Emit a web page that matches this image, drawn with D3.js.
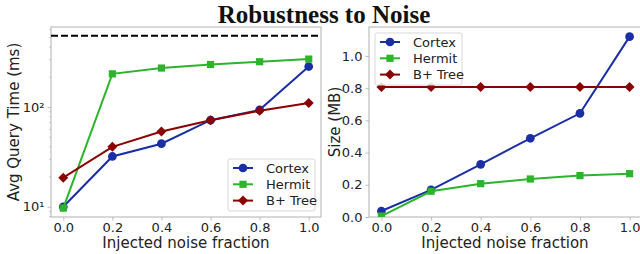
<!DOCTYPE html>
<html><head><meta charset="utf-8">
<script src="https://cdn.jsdelivr.net/npm/d3@7"></script>
<style>body{margin:0;background:#fff}svg{display:block}</style>
</head><body>
<svg id="c" width="640" height="254"></svg>
<script>
const noise = [0.0, 0.2, 0.4, 0.6, 0.8, 1.0];
const series = ["Cortex", "Hermit", "B+ Tree"];
const queryCortex = [10, 32, 43, 74, 94, 256];
const queryHermit = [9.7, 216, 247, 268, 286, 304];
const queryBTree = [19.6, 40, 57, 74, 92, 110];
const queryBaseline = 520;
const sizeCortex = [0.037, 0.168, 0.327, 0.489, 0.644, 1.12];
const sizeHermit = [0.006, 0.16, 0.207, 0.236, 0.257, 0.269];
const sizeBTree = [0.807, 0.807, 0.807, 0.807, 0.807, 0.807];
const xTicks = [0.0, 0.2, 0.4, 0.6, 0.8, 1.0];
const sizeTicks = [0.0, 0.2, 0.4, 0.6, 0.8, 1.0];
const logTicks = [10, 100];

const colors = {"Cortex": "#1a2ea6", "Hermit": "#2cb52c", "B+ Tree": "#8b0000"};
const shapes = {"Cortex": d3.symbolCircle, "Hermit": d3.symbolSquare, "B+ Tree": d3.symbolSquare};
const rot = {"Cortex": 0, "Hermit": 0, "B+ Tree": 45};
const sizes = {"Cortex": 60, "Hermit": 52, "B+ Tree": 50};
const spine = "#b0b0b0";
const font = "DejaVu Sans, sans-serif";

const svg = d3.select("#c");
svg.append("text").attr("x", 324).attr("y", 23).attr("text-anchor", "middle")
  .attr("font-family", "Liberation Serif, DejaVu Serif, serif").attr("font-weight", "bold")
  .attr("font-size", 25).attr("fill", "#111").text("Robustness to Noise");

function panel(opts) {
  const {left, right, top, bottom, y, yTicks, yFmt, data, ylabel, legendPos, minor, dashed} = opts;
  const g = svg.append("g");
  const x = d3.scaleLinear().domain([-0.05, 1.05]).range([left, right]);
  const cid = "clip" + left;
  svg.append("clipPath").attr("id", cid).append("rect").attr("x", left).attr("y", top)
    .attr("width", right - left).attr("height", bottom - top);

  const xa = g.append("g").attr("transform", `translate(0,${bottom})`)
    .call(d3.axisBottom(x).tickValues(xTicks).tickFormat(d3.format(".1f")).tickSize(3.5).tickPadding(2));
  const ya = g.append("g").attr("transform", `translate(${left},0)`)
    .call(d3.axisLeft(y).tickValues(yTicks).tickFormat(yFmt).tickSize(3.5).tickPadding(3));
  [xa, ya].forEach(a => {
    a.select(".domain").remove();
    a.selectAll(".tick line").attr("stroke", spine).attr("stroke-width", 0.8);
    a.selectAll(".tick text").attr("font-family", font).attr("font-size", 13).attr("fill", "#222");
  });
  if (minor) {
    const mt = [];
    const [d0, d1] = y.domain();
    for (let e = 0; e <= 3; e++) for (let m = 2; m < 10; m++) {
      const v = m * Math.pow(10, e);
      if (v >= d0 && v <= d1) mt.push(v);
    }
    g.append("g").selectAll("line").data(mt).join("line")
      .attr("x1", left - 2).attr("x2", left).attr("y1", d => y(d)).attr("y2", d => y(d))
      .attr("stroke", spine).attr("stroke-width", 0.6);
  }
  g.append("rect").attr("x", left).attr("y", top).attr("width", right - left).attr("height", bottom - top)
    .attr("fill", "none").attr("stroke", spine).attr("stroke-width", 1);

  const pg = g.append("g").attr("clip-path", `url(#${cid})`);
  if (dashed !== undefined) {
    pg.append("line").attr("x1", left).attr("x2", right).attr("y1", y(dashed)).attr("y2", y(dashed))
      .attr("stroke", "#000").attr("stroke-width", 2).attr("stroke-dasharray", "7,3");
  }
  const line = d3.line().x((d, i) => x(noise[i])).y(d => y(d));
  series.forEach((s, k) => {
    const vals = data[k];
    pg.append("path").attr("d", line(vals)).attr("fill", "none").attr("stroke", colors[s]).attr("stroke-width", 2);
    pg.selectAll(null).data(vals).join("path")
      .attr("transform", (d, i) => `translate(${x(noise[i])},${y(d)}) rotate(${rot[s]})`)
      .attr("d", d3.symbol().type(shapes[s]).size(sizes[s])).attr("fill", colors[s]);
  });
  g.append("text").attr("x", opts.xlx).attr("y", 248).attr("text-anchor", "middle")
    .attr("font-family", font).attr("font-size", 15).attr("fill", "#222").text("Injected noise fraction");
  g.append("text").attr("transform", `translate(${opts.ylx},${(top + bottom) / 2}) rotate(-90)`)
    .attr("text-anchor", "middle").attr("font-family", font).attr("font-size", 15).attr("fill", "#222").text(ylabel);

  const lg = g.append("g").attr("transform", `translate(${legendPos[0]},${legendPos[1]})`);
  lg.append("rect").attr("x", 0).attr("y", 0).attr("width", 87).attr("height", 52).attr("rx", 2)
    .attr("fill", "#fff").attr("fill-opacity", 0.85).attr("stroke", "#d8d8d8").attr("stroke-width", 1);
  series.forEach((s, k) => {
    const yy = 9 + k * 16.3;
    lg.append("line").attr("x1", 5).attr("x2", 25).attr("y1", yy).attr("y2", yy).attr("stroke", colors[s]).attr("stroke-width", 2);
    lg.append("path").attr("transform", `translate(15,${yy}) rotate(${rot[s]})`).attr("d", d3.symbol().type(shapes[s]).size(sizes[s])).attr("fill", colors[s]);
    lg.append("text").attr("x", 38).attr("y", yy + 4.5).attr("font-family", font).attr("font-size", 13).attr("fill", "#222").text(s);
  });
}

const yLog = d3.scaleLog().domain([7.9, 638]).range([217, 27]);
const supFmt = d => "10" + (d === 10 ? "\u00b9" : "\u00b2");
panel({left: 51, right: 321, top: 27, bottom: 217, y: yLog, yTicks: logTicks, yFmt: supFmt,
  data: [queryCortex, queryHermit, queryBTree], ylabel: "Avg Query Time (ms)", ylx: 19, xlx: 186,
  legendPos: [228, 159], minor: true, dashed: queryBaseline});

const ySize = d3.scaleLinear().domain([0, 1.18]).range([217, 27]);
panel({left: 369, right: 642, top: 27, bottom: 217, y: ySize, yTicks: sizeTicks, yFmt: d3.format(".1f"),
  data: [sizeCortex, sizeHermit, sizeBTree], ylabel: "Size (MB)", ylx: 340, xlx: 505,
  legendPos: [375, 33], minor: false});
</script>
</body></html>
